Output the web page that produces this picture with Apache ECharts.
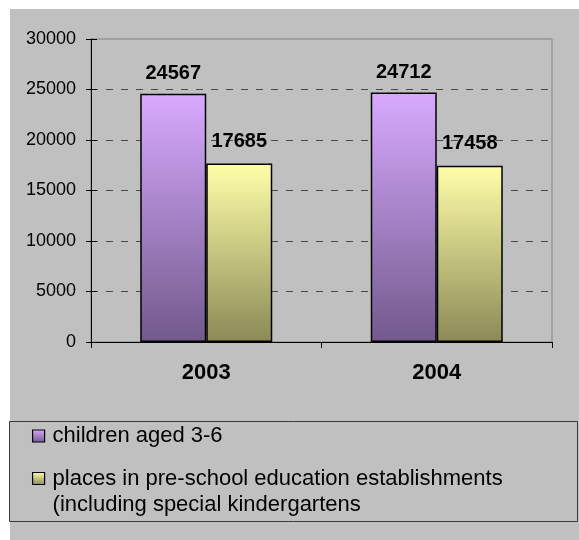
<!DOCTYPE html>
<html>
<head>
<meta charset="utf-8">
<script src="https://cdn.jsdelivr.net/npm/echarts@6/dist/echarts.min.js"></script>
<style>
  html, body { margin: 0; padding: 0; background: #ffffff; }
  #chart { width: 579px; height: 540px; }
</style>
</head>
<body>
<div id="chart"></div>
<script>
// Pre-school capacity vs. number of children aged 3-6
var years = ['2003', '2004'];
var childrenAged3to6 = [24567, 24712];
var preschoolPlaces = [17685, 17458];
var seriesNames = [
  'children aged 3-6',
  'places in pre-school education establishments\n(including special kindergartens'
];
var yTicks = { min: 0, max: 30000, step: 5000 };

var FONT = '"Liberation Sans", Arial, sans-serif';

function vGradient(top, bottom) {
  return new echarts.graphic.LinearGradient(0, 0, 0, 1, [
    { offset: 0, color: top },
    { offset: 1, color: bottom }
  ]);
}

var chart = echarts.init(document.getElementById('chart'), null, { renderer: 'canvas' });

var barLabel = {
  show: true,
  position: 'top',
  distance: 10,
  color: '#000',
  fontFamily: FONT,
  fontWeight: 'bold',
  fontSize: 20
};

var legendText = {
  fontFamily: FONT, fontSize: 22, color: '#000',
  lineHeight: 26, padding: [0, 0, 0, 3]
};

chart.setOption({
  backgroundColor: '#ffffff',
  animation: false,
  textStyle: { fontFamily: FONT },
  graphic: [
    {
      type: 'rect', z: -10, silent: true,
      shape: { x: 10, y: 9, width: 569, height: 531 },
      style: { fill: '#C0C0C0' }
    },
    {
      type: 'rect', z: -5, silent: true,
      shape: { x: 9.5, y: 421.5, width: 568, height: 100 },
      style: { fill: 'none', stroke: '#3a3a3a', lineWidth: 1 }
    }
  ],
  grid: {
    left: 91, top: 39, right: 27, bottom: 198,
    show: true,
    borderColor: '#808080',
    borderWidth: 1,
    backgroundColor: 'transparent'
  },
  legend: [
    {
      data: [seriesNames[0]],
      left: 32, top: 423, padding: 0,
      itemWidth: 12, itemHeight: 12,
      icon: 'rect',
      itemStyle: { borderColor: '#000', borderWidth: 1.2 },
      textStyle: legendText
    },
    {
      // leading blank line keeps the swatch level with the first text line
      data: [seriesNames[1]],
      formatter: function (name) { return '\n' + name; },
      left: 32, top: 439.5, padding: 0,
      itemWidth: 12, itemHeight: 12,
      icon: 'rect',
      itemStyle: { borderColor: '#000', borderWidth: 1.2 },
      textStyle: legendText
    }
  ],
  xAxis: {
    type: 'category',
    data: years,
    boundaryGap: true,
    axisLine: { lineStyle: { color: '#000', width: 1 } },
    axisTick: { show: true, length: 6, alignWithLabel: false, lineStyle: { color: '#000' } },
    axisLabel: { margin: 20, color: '#000', fontFamily: FONT, fontWeight: 'bold', fontSize: 22 },
    splitLine: { show: false }
  },
  yAxis: [
    {
      type: 'value',
      min: yTicks.min, max: yTicks.max, interval: yTicks.step,
      axisLine: { show: true, lineStyle: { color: '#000', width: 1 } },
      axisTick: { show: true, length: 5, lineStyle: { color: '#000' } },
      axisLabel: {
        margin: 15, color: '#000', fontFamily: FONT, fontSize: 18,
        formatter: function (v) { return String(v); }
      },
      splitLine: {
        show: true,
        showMinLine: false,
        showMaxLine: false,
        lineStyle: { color: '#4a4a4a', type: [7, 8], width: 1 }
      }
    },
    {
      // inner half of the crossing ticks on the value axis
      type: 'value',
      position: 'left',
      min: yTicks.min, max: yTicks.max, interval: yTicks.step,
      axisLine: { show: false },
      axisTick: { show: true, inside: true, length: 6, lineStyle: { color: '#000' } },
      axisLabel: { show: false },
      splitLine: { show: false }
    }
  ],
  series: [
    {
      name: seriesNames[0],
      type: 'bar',
      data: childrenAged3to6,
      barWidth: 66,
      barGap: '0%',
      itemStyle: {
        color: vGradient('#D8AAFF', '#72598C'),
        borderColor: '#000',
        borderWidth: 1.5
      },
      label: barLabel
    },
    {
      name: seriesNames[1],
      type: 'bar',
      data: preschoolPlaces,
      barWidth: 66,
      barGap: '0%',
      itemStyle: {
        color: vGradient('#FFFFAA', '#8B8A57'),
        borderColor: '#000',
        borderWidth: 1.5
      },
      label: Object.assign({}, barLabel, { distance: 12 })
    }
  ]
});
</script>
</body>
</html>
